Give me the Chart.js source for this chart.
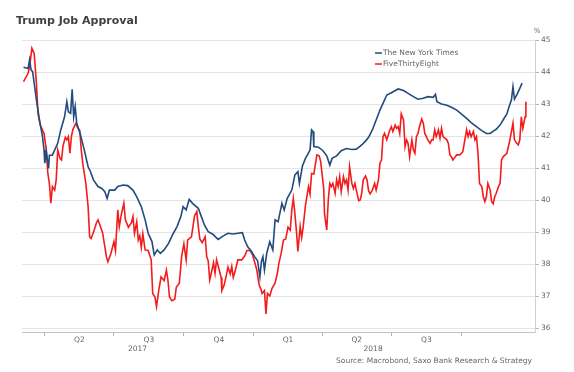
<!DOCTYPE html>
<html>
<head>
<meta charset="utf-8">
<script src="https://cdn.jsdelivr.net/npm/chart.js"></script>
<style>
  body { margin: 0; background: #fff; }
  canvas { display: block; }
</style>
</head>
<body>
<canvas id="approvalChart" width="574" height="372"></canvas>
<script>
// days counted from 2017-01-01
const nytDays = [62, 68, 70, 72, 74, 79, 83, 87, 89, 90, 92, 95, 96, 100, 107, 111, 116, 119, 121, 124, 126, 128, 130, 132, 137, 142, 147, 150, 154, 160, 165, 169, 172, 175, 182, 186, 193, 199, 206, 211, 217, 222, 226, 231, 234, 238, 242, 247, 253, 258, 264, 269, 272, 276, 280, 285, 287, 292, 296, 300, 305, 311, 318, 325, 331, 338, 344, 350, 353, 357, 362, 366, 370, 373, 375, 377, 379, 382, 386, 390, 393, 397, 402, 405, 409, 415, 419, 423, 425, 429, 433, 439, 441, 443, 444, 450, 456, 461, 465, 468, 474, 480, 487, 494, 500, 507, 512, 516, 521, 526, 531, 535, 540, 546, 555, 562, 568, 575, 581, 588, 594, 601, 604, 606, 612, 619, 625, 632, 638, 645, 651, 658, 665, 671, 676, 681, 684, 689, 693, 698, 701, 704, 706, 708, 712, 715, 718];
const nytValues = [44.15, 44.11, 44.38, 44.06, 44.01, 43.13, 42.50, 41.98, 41.56, 41.15, 41.51, 40.99, 41.40, 41.40, 41.77, 42.19, 42.60, 43.07, 42.76, 42.71, 43.46, 42.60, 42.92, 42.40, 42.03, 41.56, 41.04, 40.89, 40.63, 40.42, 40.36, 40.26, 40.05, 40.31, 40.31, 40.42, 40.47, 40.45, 40.31, 40.10, 39.79, 39.38, 38.96, 38.70, 38.28, 38.44, 38.33, 38.44, 38.65, 38.91, 39.17, 39.48, 39.79, 39.69, 40.02, 39.88, 39.84, 39.74, 39.48, 39.22, 39.01, 38.93, 38.77, 38.88, 38.96, 38.94, 38.96, 38.98, 38.75, 38.54, 38.39, 38.23, 38.10, 37.60, 38.07, 38.23, 37.81, 38.33, 38.70, 38.44, 39.38, 39.32, 39.90, 39.69, 40.05, 40.31, 40.78, 40.89, 40.52, 41.06, 41.30, 41.56, 42.19, 42.14, 41.67, 41.65, 41.54, 41.38, 41.09, 41.30, 41.38, 41.54, 41.61, 41.58, 41.59, 41.72, 41.84, 41.96, 42.19, 42.50, 42.81, 43.02, 43.28, 43.35, 43.47, 43.42, 43.33, 43.23, 43.15, 43.18, 43.23, 43.21, 43.30, 43.07, 43.00, 42.96, 42.90, 42.81, 42.69, 42.55, 42.42, 42.29, 42.17, 42.08, 42.08, 42.17, 42.21, 42.34, 42.50, 42.69, 42.92, 43.13, 43.54, 43.15, 43.33, 43.49, 43.65];

const fteDays = [62, 68, 70, 73, 76, 79, 81, 84, 89, 92, 94, 96, 98, 100, 103, 105, 107, 110, 112, 114, 117, 119, 121, 123, 125, 127, 131, 133, 136, 138, 140, 144, 147, 149, 151, 155, 158, 160, 163, 166, 169, 171, 173, 177, 181, 183, 186, 188, 191, 194, 196, 200, 204, 206, 208, 211, 213, 215, 217, 219, 222, 226, 230, 232, 235, 237, 240, 243, 247, 250, 252, 254, 257, 261, 263, 267, 270, 273, 276, 278, 283, 287, 290, 292, 294, 297, 301, 303, 305, 307, 309, 312, 314, 316, 319, 322, 323, 326, 329, 331, 334, 336, 338, 341, 344, 349, 353, 356, 360, 363, 366, 369, 372, 374, 376, 379, 381, 383, 386, 389, 393, 396, 398, 401, 404, 407, 410, 413, 415, 417, 419, 421, 423, 426, 428, 430, 433, 437, 439, 441, 444, 448, 451, 453, 455, 457, 458, 461, 463, 465, 467, 469, 472, 474, 476, 478, 480, 483, 485, 487, 489, 491, 494, 496, 498, 501, 503, 505, 507, 509, 512, 514, 516, 518, 521, 524, 526, 529, 531, 533, 535, 537, 540, 542, 544, 546, 548, 551, 553, 555, 557, 559, 562, 564, 566, 568, 570, 573, 575, 577, 579, 581, 583, 586, 588, 590, 592, 594, 597, 599, 601, 603, 605, 608, 610, 612, 614, 619, 621, 623, 625, 627, 632, 636, 640, 645, 647, 649, 651, 654, 656, 658, 660, 662, 665, 667, 669, 671, 673, 676, 678, 680, 682, 684, 687, 689, 691, 693, 698, 702, 706, 708, 711, 713, 715, 717, 719, 722, 723];
const fteValues = [43.70, 43.96, 44.17, 44.74, 44.58, 43.65, 42.71, 42.34, 42.08, 41.56, 40.83, 40.52, 39.90, 40.42, 40.31, 40.63, 41.56, 41.30, 41.25, 41.69, 41.96, 41.88, 41.98, 41.46, 41.98, 42.21, 42.40, 42.27, 42.17, 41.56, 41.13, 40.52, 39.79, 38.85, 38.80, 39.06, 39.29, 39.38, 39.19, 38.98, 38.54, 38.23, 38.07, 38.33, 38.70, 38.42, 39.69, 39.17, 39.58, 39.90, 39.38, 39.15, 39.29, 39.48, 38.96, 39.32, 38.75, 38.88, 38.52, 38.94, 38.44, 38.42, 38.13, 37.08, 36.96, 36.67, 37.19, 37.60, 37.48, 37.81, 37.50, 36.98, 36.85, 36.90, 37.27, 37.40, 38.23, 38.63, 38.13, 38.75, 38.85, 39.50, 39.64, 39.17, 38.78, 38.67, 38.85, 38.23, 38.10, 37.50, 37.71, 38.04, 37.71, 38.13, 37.86, 37.58, 37.17, 37.34, 37.66, 37.90, 37.69, 37.92, 37.58, 37.83, 38.13, 38.13, 38.25, 38.42, 38.42, 38.31, 38.07, 37.81, 37.34, 37.24, 37.08, 37.17, 36.44, 37.08, 37.00, 37.24, 37.40, 37.71, 38.02, 38.33, 38.75, 38.78, 39.15, 39.06, 39.69, 40.05, 39.58, 39.06, 38.39, 39.17, 38.83, 39.17, 39.84, 40.42, 40.19, 40.83, 40.81, 41.41, 41.38, 41.20, 40.78, 40.36, 39.58, 39.06, 40.00, 40.52, 40.42, 40.52, 40.21, 40.63, 40.42, 40.73, 40.26, 40.73, 40.52, 40.63, 40.31, 41.04, 40.52, 40.36, 40.52, 40.19, 39.98, 40.00, 40.21, 40.63, 40.75, 40.63, 40.29, 40.19, 40.31, 40.52, 40.31, 40.63, 41.15, 41.25, 41.98, 42.08, 41.88, 42.03, 42.19, 42.29, 42.14, 42.34, 42.24, 42.29, 42.08, 42.69, 42.50, 41.67, 41.88, 41.77, 41.35, 41.88, 41.56, 41.46, 41.98, 42.08, 42.29, 42.53, 42.40, 42.08, 41.98, 41.88, 41.77, 41.88, 41.88, 42.19, 41.98, 42.19, 41.93, 42.24, 41.98, 41.88, 41.77, 41.41, 41.35, 41.25, 41.41, 41.41, 41.51, 42.19, 41.98, 42.14, 41.98, 42.14, 41.88, 41.98, 41.46, 40.52, 40.42, 40.10, 39.95, 40.10, 40.52, 40.31, 39.95, 39.88, 40.10, 40.21, 40.42, 40.52, 41.25, 41.35, 41.46, 41.88, 42.40, 41.88, 41.77, 41.72, 41.88, 42.60, 42.24, 42.60, 43.07];

// x axis: quarter boundaries (tick marks), quarter names, year names
const quarterStarts = [90, 181, 273, 365, 455, 546, 638];
const quarterMids = [135.5, 227, 319, 410, 500.5, 592];
const quarterLabels = ['Q2', 'Q3', 'Q4', 'Q1', 'Q2', 'Q3'];
const yearDays = [212, 522];
const yearLabels = ['2017', '2018'];
const yTicks = [36, 37, 38, 39, 40, 41, 42, 43, 44, 45];

const seriesNames = ['The New York Times', 'FiveThirtyEight'];
const seriesColors = ['#234a7d', '#f21c1c'];

const FONT = 'DejaVu Sans';

const toPoints = (days, vals) => days.map((d, i) => ({ x: d, y: vals[i] }));

// title, % unit, legend and source drawn straight on the canvas
const extraText = {
  id: 'extraText',
  afterDraw(chart) {
    const c = chart.ctx;
    const area = chart.chartArea;
    c.save();
    c.textBaseline = 'middle';
    c.textAlign = 'left';
    c.fillStyle = '#404040';
    c.font = 'bold 11px "' + FONT + '"';
    c.fillText('Trump Job Approval', 16, 21);

    c.fillStyle = '#666';
    c.font = '7px "' + FONT + '"';
    c.textAlign = 'center';
    c.fillText('%', chart.scales.y.left + 2, area.top - 9);

    c.textAlign = 'left';
    c.font = '7.5px "' + FONT + '"';
    seriesNames.forEach((name, i) => {
      const ly = area.top + 13 + i * 11;
      const lx = area.right - 160;
      c.strokeStyle = seriesColors[i];
      c.lineWidth = 1.5;
      c.beginPath();
      c.moveTo(lx, ly);
      c.lineTo(lx + 7, ly);
      c.stroke();
      c.fillStyle = '#666';
      c.fillText(name, lx + 8, ly);
    });

    c.textAlign = 'right';
    c.font = '7.5px "' + FONT + '"';
    c.fillText('Source: Macrobond, Saxo Bank Research & Strategy', area.right - 3, 361);
    c.restore();
  }
};

const ctx = document.getElementById('approvalChart').getContext('2d');
const chart = new Chart(ctx, {
  type: 'line',
  data: {
    datasets: [
      {
        label: seriesNames[0],
        data: toPoints(nytDays, nytValues),
        borderColor: seriesColors[0],
        borderWidth: 1.6,
        pointRadius: 0,
        tension: 0
      },
      {
        label: seriesNames[1],
        data: toPoints(fteDays, fteValues),
        borderColor: seriesColors[1],
        borderWidth: 1.6,
        pointRadius: 0,
        tension: 0
      }
    ]
  },
  options: {
    responsive: false,
    animation: false,
    devicePixelRatio: 1,
    layout: { padding: { top: 40, left: 22, right: 0, bottom: 14 } },
    plugins: {
      legend: { display: false },
      tooltip: { enabled: false },
      title: { display: false }
    },
    scales: {
      x: {
        type: 'linear',
        position: 'bottom',
        min: 60,
        max: 735,
        weight: 0,
        afterBuildTicks: (scale) => {
          scale.ticks = quarterStarts.concat(quarterMids).sort((a, b) => a - b).map(v => ({ value: v }));
        },
        afterFit: (scale) => { scale.height = 12; },
        grid: {
          drawOnChartArea: false,
          tickLength: 4,
          tickColor: (c) => (c.tick && quarterStarts.includes(c.tick.value)) ? '#b5b5b5' : 'rgba(0,0,0,0)'
        },
        border: { display: true, color: '#c4c4c4' },
        ticks: {
          autoSkip: false,
          maxRotation: 0,
          minRotation: 0,
          padding: 0,
          color: '#666',
          font: { family: FONT, size: 7.5 },
          callback: (v) => {
            const i = quarterMids.indexOf(v);
            return i >= 0 ? quarterLabels[i] : '';
          }
        }
      },
      x2: {
        type: 'linear',
        position: 'bottom',
        min: 60,
        max: 735,
        weight: 1,
        afterBuildTicks: (scale) => {
          scale.ticks = yearDays.map(v => ({ value: v }));
        },
        afterFit: (scale) => { scale.height = 14; },
        grid: { display: false, drawTicks: false },
        border: { display: false },
        ticks: {
          autoSkip: false,
          maxRotation: 0,
          padding: 1,
          color: '#666',
          font: { family: FONT, size: 7.5 },
          callback: (v) => yearLabels[yearDays.indexOf(v)]
        }
      },
      y: {
        type: 'linear',
        position: 'right',
        min: 35.875,
        max: 45,
        afterBuildTicks: (scale) => {
          scale.ticks = yTicks.map(v => ({ value: v }));
        },
        afterFit: (scale) => { scale.width = 39; },
        grid: {
          color: '#e4e4e4',
          lineWidth: 1,
          tickLength: 4,
          tickColor: '#b5b5b5'
        },
        border: { display: true, color: '#d0d0d0' },
        ticks: {
          padding: 2,
          color: '#666',
          font: { family: FONT, size: 7.5 }
        }
      }
    }
  },
  plugins: [extraText]
});
</script>
</body>
</html>
